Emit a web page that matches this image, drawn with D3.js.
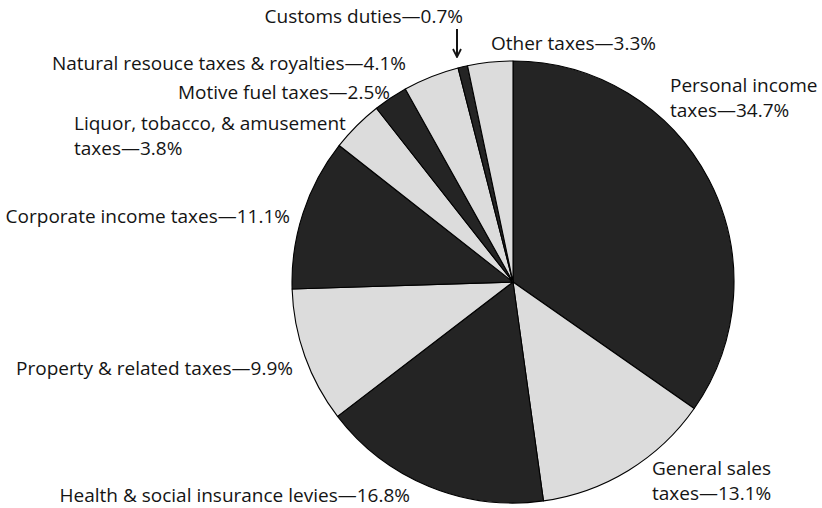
<!DOCTYPE html>
<html>
<head>
<meta charset="utf-8">
<script src="https://cdn.jsdelivr.net/npm/d3@7"></script>
<style>
  body { margin: 0; background: #fff; }
  text { font-family: "Open Sans", sans-serif; font-size: 19px; fill: #141414; }
</style>
</head>
<body>
<svg id="chart" width="822" height="508"></svg>
<script>
// Revenue shares by tax source, clockwise from 12 o'clock
const categories = [
  "Personal income taxes",
  "General sales taxes",
  "Health & social insurance levies",
  "Property & related taxes",
  "Corporate income taxes",
  "Liquor, tobacco, & amusement taxes",
  "Motive fuel taxes",
  "Natural resouce taxes & royalties",
  "Customs duties",
  "Other taxes"
];
const shares = [34.7, 13.1, 16.8, 9.9, 11.1, 3.8, 2.5, 4.1, 0.7, 3.3];

// Label placement: anchor x, baseline y, text-anchor, whether the label wraps before its last word
const labelLayout = [
  { x: 670, y: 92,  anchor: "start", wrap: true  },
  { x: 652, y: 475, anchor: "start", wrap: true  },
  { x: 410, y: 502, anchor: "end",   wrap: false },
  { x: 293, y: 375, anchor: "end",   wrap: false },
  { x: 290, y: 223, anchor: "end",   wrap: false },
  { x: 74,  y: 130, anchor: "start", wrap: true  },
  { x: 390, y: 99,  anchor: "end",   wrap: false },
  { x: 406, y: 70,  anchor: "end",   wrap: false },
  { x: 463, y: 23,  anchor: "end",   wrap: false },
  { x: 491, y: 50,  anchor: "start", wrap: false }
];

const cx = 513, cy = 282, radius = 221;
const fills = ["#242424", "#dcdcdc"];

const svg = d3.select("#chart");
const g = svg.append("g").attr("transform", `translate(${cx},${cy})`);

const pie = d3.pie().sort(null).value(d => d.value);
const arc = d3.arc().innerRadius(0).outerRadius(radius);

const data = categories.map((c, i) => ({ name: c, value: shares[i] }));

g.selectAll("path.slice")
  .data(pie(data))
  .join("path")
  .attr("class", "slice")
  .attr("d", arc)
  .attr("fill", (d, i) => fills[i % 2])
  .attr("stroke", "#000")
  .attr("stroke-width", 1.1)
  .attr("stroke-linejoin", "round");

// Labels
const lineGap = 25;
data.forEach((d, i) => {
  const L = labelLayout[i];
  const full = `${d.name}—${d.value.toFixed(1)}%`;
  let lines = [full];
  if (L.wrap) {
    const k = d.name.lastIndexOf(" ");
    lines = [d.name.slice(0, k), `${d.name.slice(k + 1)}—${d.value.toFixed(1)}%`];
  }
  const t = svg.append("text")
    .attr("x", L.x)
    .attr("y", L.y)
    .attr("text-anchor", L.anchor);
  lines.forEach((s, j) => {
    t.append("tspan").attr("x", L.x).attr("dy", j === 0 ? 0 : lineGap).text(s);
  });
});

// Pointer for the thin customs-duties slice
const defs = svg.append("defs");
defs.append("marker")
  .attr("id", "arrowhead")
  .attr("viewBox", "0 0 10 10")
  .attr("refX", 9).attr("refY", 5)
  .attr("markerWidth", 10).attr("markerHeight", 10)
  .attr("markerUnits", "userSpaceOnUse")
  .attr("orient", "auto")
  .append("path")
  .attr("d", "M1,1 L9,5 L1,9")
  .attr("fill", "none")
  .attr("stroke", "#141414")
  .attr("stroke-width", 1.8);

svg.append("line")
  .attr("x1", 457).attr("y1", 29)
  .attr("x2", 457).attr("y2", 57)
  .attr("stroke", "#141414")
  .attr("stroke-width", 2)
  .attr("marker-end", "url(#arrowhead)");
</script>
</body>
</html>
